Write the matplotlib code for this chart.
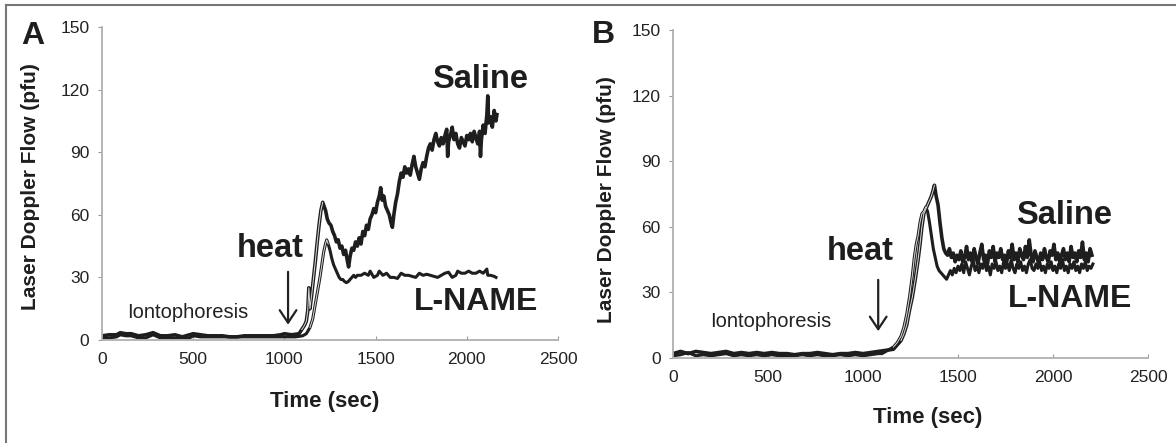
import matplotlib
matplotlib.use("Agg")
import matplotlib.pyplot as plt
from matplotlib.lines import Line2D

plt.rcParams["font.family"] = ["Liberation Sans", "DejaVu Sans"]

# ---- panel A: saline ----
a_sal_t = [0, 40, 80, 100, 130, 160, 200, 240, 280, 320, 360, 400, 440, 480, 500, 540,
           580, 620, 660, 700, 740, 780, 820, 860, 900, 940, 980, 1000, 1040, 1080,
           1095, 1110, 1120, 1128, 1134, 1140, 1150, 1160, 1170, 1180, 1190, 1200, 1210,
           1218, 1226, 1235, 1245, 1255, 1265, 1275, 1285, 1295, 1305, 1315, 1325, 1335,
           1345, 1352, 1360, 1370, 1380, 1390, 1400, 1410, 1420, 1430, 1440, 1450, 1460,
           1470, 1480, 1490, 1500, 1510, 1520, 1528, 1536, 1545, 1555, 1565, 1575, 1585,
           1592, 1600, 1610, 1620, 1630, 1640, 1650, 1660, 1670, 1680, 1690, 1700, 1710,
           1720, 1730, 1740, 1750, 1760, 1770, 1780, 1790, 1800, 1810, 1820, 1830, 1840,
           1850, 1860, 1870, 1880, 1890, 1895, 1900, 1910, 1920, 1930, 1940, 1950, 1960,
           1970, 1980, 1990, 2000, 2010, 2020, 2030, 2040, 2050, 2060, 2070, 2075, 2080,
           2090, 2100, 2110, 2115, 2120, 2130, 2140, 2150, 2160, 2165]
a_sal_v = [2, 2.5, 2.5, 3.5, 3, 3, 2, 2.5, 3.5, 2, 2, 2.5, 1.5, 2.5, 3, 2.5,
           2, 2, 2, 1.5, 1.5, 2, 2, 2, 2, 2, 2.5, 3, 2.5, 3,
           5, 7, 9, 14, 25, 15, 22, 30, 38, 47, 55, 62, 66,
           64, 62, 58, 56, 55, 52, 50, 47, 48, 44, 45, 41, 43,
           38, 35, 40, 44, 43, 47, 45, 49, 46, 52, 50, 55, 53,
           58, 60, 63, 61, 66, 69, 73, 67, 69, 64, 62, 60, 56,
           54, 60, 66, 70, 76, 80, 78, 83, 80, 82, 79, 84, 88,
           83, 80, 77, 82, 85, 83, 88, 92, 94, 91, 96, 99, 95,
           93, 97, 94, 98, 101, 88, 95, 98, 102, 96, 99, 94, 92,
           97, 95, 93, 98, 96, 99, 95, 100, 97, 94, 100, 88, 96,
           103, 99, 108, 117, 104, 107, 102, 110, 105, 108]

# ---- panel A: L-NAME ----
a_ln_t = [0, 40, 80, 100, 130, 160, 200, 240, 280, 320, 360, 400, 440, 480, 500, 540,
          580, 620, 660, 700, 740, 780, 820, 860, 900, 940, 980, 1020, 1060, 1100,
          1120, 1140, 1155, 1165, 1175, 1185, 1195, 1205, 1215, 1225, 1232, 1240, 1250,
          1260, 1270, 1280, 1290, 1300, 1310, 1320, 1330, 1340, 1350, 1360, 1370, 1380,
          1390, 1400, 1420, 1440, 1460, 1470, 1490, 1510, 1520, 1540, 1560, 1580, 1600,
          1620, 1640, 1660, 1680, 1700, 1720, 1740, 1760, 1780, 1800, 1820, 1840, 1860,
          1880, 1900, 1920, 1940, 1950, 1970, 1990, 2010, 2030, 2050, 2070, 2090, 2110,
          2115, 2130, 2150, 2160]
a_ln_v = [1, 1, 1.5, 2.5, 2, 2, 1, 1, 2.5, 1, 1, 1, 1, 1, 2, 1.5,
          1.5, 1.5, 1.5, 1.5, 1.5, 1.5, 1.5, 1.5, 1.5, 1.5, 1.5, 1.5, 1.5, 2,
          3, 6, 10, 15, 20, 25, 30, 36, 42, 46, 48, 46, 43,
          39, 36, 34, 32, 30, 29, 29, 28, 27.5, 28, 29, 30, 31,
          30, 31, 31, 32, 31, 33, 30, 31, 33, 31, 32, 30, 30,
          29.5, 32, 31, 31, 30.5, 30, 32, 31, 31.5, 31, 30.5, 30, 31,
          32, 32.5, 30, 31, 33, 32, 32, 33, 32, 32, 33, 32, 34,
          31, 31, 30.5, 30]

# ---- panel B: saline ----
b_sal_t = [0, 40, 80, 120, 160, 200, 240, 280, 320, 360, 400, 440, 480, 520, 560, 600,
           640, 680, 720, 760, 800, 840, 880, 920, 960, 1000, 1040, 1080, 1120, 1160,
           1180, 1200, 1215, 1230, 1245, 1260, 1275, 1290, 1300, 1310, 1320, 1330, 1340,
           1350, 1360, 1370, 1376, 1385, 1395, 1405, 1415, 1425, 1435, 1445, 1455, 1465,
           1475, 1485, 1495, 1505, 1515, 1525, 1535, 1545, 1555, 1565, 1575, 1585, 1595,
           1605, 1615, 1625, 1635, 1645, 1655, 1665, 1675, 1685, 1695, 1705, 1715, 1725,
           1735, 1745, 1755, 1765, 1775, 1785, 1795, 1805, 1815, 1825, 1835, 1845, 1855,
           1865, 1875, 1885, 1895, 1905, 1915, 1925, 1935, 1945, 1955, 1965, 1975, 1985,
           1995, 2005, 2015, 2025, 2035, 2045, 2055, 2065, 2075, 2085, 2095, 2105, 2115,
           2125, 2135, 2145, 2155, 2165, 2175, 2185, 2195, 2205]
b_sal_v = [2, 3, 2, 3, 2.5, 2, 2.5, 3, 2, 2.5, 2, 2.5, 2, 2.5, 2, 2,
           1.5, 2, 2, 2.5, 2, 1.5, 2, 2, 2.5, 2, 2.5, 3, 3.5, 4,
           6, 8, 11, 15, 22, 28, 36, 45, 52, 60, 66, 68, 70,
           72, 74, 77, 79, 74, 70, 62, 55, 50, 48, 47, 50, 46,
           48, 44, 47, 45, 49, 44, 46, 51, 45, 48, 44, 50, 46,
           43, 48, 52, 45, 47, 43, 49, 46, 51, 44, 48, 46, 50,
           45, 47, 43, 49, 46, 52, 45, 48, 44, 50, 47, 45, 51,
           46, 54, 47, 44, 49, 46, 43, 48, 45, 50, 46, 44, 49,
           47, 52, 45, 48, 44, 47, 50, 45, 48, 44, 51, 46, 48,
           44, 49, 46, 53, 45, 48, 44, 50, 47]

# ---- panel B: L-NAME ----
b_ln_t = [0, 40, 80, 120, 160, 200, 240, 280, 320, 360, 400, 440, 480, 520, 560, 600,
          640, 680, 720, 760, 800, 840, 880, 920, 960, 1000, 1040, 1080, 1100, 1120,
          1140, 1160, 1180, 1200, 1215, 1230, 1245, 1260, 1270, 1280, 1290, 1300, 1310,
          1320, 1330, 1340, 1350, 1360, 1370, 1380, 1390, 1400, 1410, 1420, 1430, 1440,
          1450, 1460, 1470, 1480, 1490, 1500, 1510, 1520, 1530, 1540, 1550, 1560, 1570,
          1580, 1590, 1600, 1610, 1620, 1630, 1640, 1650, 1660, 1670, 1680, 1690, 1700,
          1710, 1720, 1730, 1740, 1750, 1760, 1770, 1780, 1790, 1800, 1810, 1820, 1830,
          1840, 1850, 1860, 1870, 1880, 1890, 1900, 1910, 1920, 1930, 1940, 1950, 1960,
          1970, 1980, 1990, 2000, 2010, 2020, 2030, 2040, 2050, 2060, 2070, 2080, 2090,
          2100, 2110, 2120, 2130, 2140, 2150, 2160, 2170, 2180, 2190, 2200, 2210]
b_ln_v = [1, 1.5, 2.5, 1, 1.5, 1, 1.5, 2, 1, 1.5, 1, 1.5, 1, 1.5, 1, 1,
          1, 1.5, 1, 1.5, 1, 1, 1.5, 1, 1.5, 1, 1.5, 2, 2, 3,
          4, 5, 7, 10, 14, 20, 28, 38, 46, 52, 56, 62, 66,
          67, 69, 67, 62, 56, 50, 46, 42, 40, 39, 38, 37, 36,
          38, 40, 38, 41, 39, 42, 40, 43, 39, 44, 41, 38, 42,
          45, 40, 42, 39, 43, 41, 45, 40, 42, 38, 43, 41, 44,
          40, 42, 39, 44, 41, 43, 40, 45, 41, 39, 43, 41, 44,
          40, 42, 39, 43, 45, 41, 40, 43, 41, 44, 40, 42, 39,
          43, 41, 44, 40, 42, 39, 43, 41, 45, 40, 42, 39, 43,
          41, 44, 40, 42, 39, 43, 41, 44, 40, 42, 41, 43]

x_ticks = [0, 500, 1000, 1500, 2000, 2500]
y_ticks = [0, 30, 60, 90, 120, 150]

W, H = 1176, 443
fig = plt.figure(figsize=(W / 100, H / 100), dpi=100)
ink = "#1e1e1e"


def px(x, y):
    return x / W, 1 - y / H


def segment(t, v, t0, t1):
    keep = [i for i, tt in enumerate(t) if t0 <= tt <= t1]
    return [t[i] for i in keep], [v[i] for i in keep]


def panel(rect, sal, ln, sal_rise, ln_rise, heat_t, heat_top, heat_tip,
          heat_y, iont_xy, sal_xy, ln_xy):
    ax = fig.add_axes(rect)
    ax.plot(*ln, color=ink, lw=2.2)
    ax.plot(*sal, color=ink, lw=2.6)
    # rising limbs look hollow in the scan
    ax.plot(*segment(*ln, *ln_rise), color="#dcdcdc", lw=0.7)
    ax.plot(*segment(*sal, *sal_rise), color="#dcdcdc", lw=0.7)
    ax.set_xlim(0, 2500)
    ax.set_ylim(0, 150)
    ax.set_xticks(x_ticks)
    ax.set_yticks(y_ticks)
    for s in ("top", "right"):
        ax.spines[s].set_visible(False)
    for s in ("left", "bottom"):
        ax.spines[s].set_color("#b0b0b0")
        ax.spines[s].set_linewidth(1.3)
    ax.tick_params(axis="x", direction="in", length=3, color="#999999",
                   labelsize=12.5, pad=9, labelcolor="#222222")
    ax.tick_params(axis="y", direction="out", length=3, color="#999999",
                   labelsize=12.5, pad=6, labelcolor="#222222")
    ax.annotate("", xy=(heat_t, heat_tip), xytext=(heat_t, heat_top),
                arrowprops=dict(arrowstyle="->,head_length=0.9,head_width=0.6",
                                color="#222222", lw=1.6))
    ax.text(heat_t - 95, heat_y, "heat", fontsize=23.5, fontweight="bold",
            ha="center", va="center", color=ink)
    ax.text(*iont_xy, "Iontophoresis", fontsize=14.5, ha="center", va="center",
            color="#222222")
    ax.text(*sal_xy, "Saline", fontsize=23.5, fontweight="bold", ha="center",
            va="center", color=ink)
    ax.text(*ln_xy, "L-NAME", fontsize=23, fontweight="bold", ha="center",
            va="center", color=ink)
    return ax


# panel A: x 102..558 px, y 27..340 px
panel([102 / W, 1 - 340 / H, 456 / W, 313 / H],
      (a_sal_t, a_sal_v), (a_ln_t, a_ln_v), (1090, 1215), (1130, 1240),
      1020, 34, 6, 44, (469, 13.4), (2070, 125), (2050, 18))
# panel B: x 673..1148 px, y 30..358 px
panel([673 / W, 1 - 358 / H, 475 / W, 328 / H],
      (b_sal_t, b_sal_v), (b_ln_t, b_ln_v), (1190, 1376), (1150, 1330),
      1080, 37, 11, 48.5, (516, 16.5), (2060, 65), (2090, 27))

lab = dict(fontweight="bold", ha="center", va="center", color=ink)
fig.text(*px(31, 187), "Laser Doppler Flow (pfu)", rotation=90, fontsize=15, **lab)
fig.text(*px(607, 200), "Laser Doppler Flow (pfu)", rotation=90, fontsize=15, **lab)
fig.text(*px(325, 401), "Time (sec)", fontsize=16, **lab)
fig.text(*px(928, 418), "Time (sec)", fontsize=16, **lab)
fig.text(*px(33, 36), "A", fontsize=23, **lab)
fig.text(*px(603, 35), "B", fontsize=23, **lab)

# frame lines at top and left
fig.add_artist(Line2D([6 / W, 1], [1 - 5 / H, 1 - 5 / H], color="#777777", lw=1.5))
fig.add_artist(Line2D([6 / W, 6 / W], [0, 1 - 5 / H], color="#777777", lw=1.5))

fig.savefig("out.png", dpi=100)
